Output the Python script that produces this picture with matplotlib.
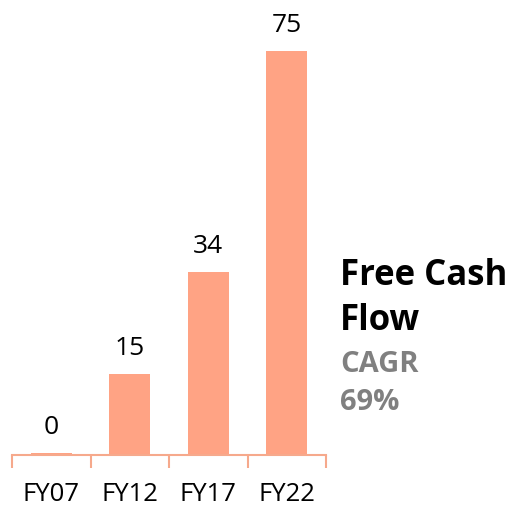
import matplotlib.pyplot as plt
import numpy as np

years = ["FY07", "FY12", "FY17", "FY22"]
cash_flow = [0.3, 15, 34, 75]
cagr = "69%"

bar_color = "#FFA384"
axis_color = "#F6A98C"

plt.rcParams["font.family"] = ["Open Sans", "DejaVu Sans"]

fig = plt.figure(figsize=(5.1, 5.06), dpi=100)
ax = fig.add_axes([12 / 510, 50 / 506, 314 / 510, 456 / 506])

x = np.arange(len(years))
ax.bar(x, cash_flow, width=0.52, color=bar_color)
for xi, v in zip(x, cash_flow):
	ax.text(xi, v + 2.6, f"{v:.0f}", ha="center", va="bottom", fontsize=19)

ax.set_xlim(-0.5, len(years) - 0.5)
ax.set_ylim(0, 84.6)
ax.set_yticks([])
for side in ["top", "left", "right"]:
	ax.spines[side].set_visible(False)
ax.spines["bottom"].set_color(axis_color)
ax.spines["bottom"].set_linewidth(1.5)

# boundary ticks between categories, labels centred on bars
ax.set_xticks(np.arange(-0.5, len(years)), labels=[])
ax.tick_params(axis="x", which="major", length=9, width=1.5, color=axis_color)
ax.set_xticks(x, labels=years, minor=True)
ax.tick_params(axis="x", which="minor", length=0, pad=18.5, labelsize=18.5)

fig.text(340 / 510, 1 - 285 / 506, "Free Cash", fontsize=25, fontweight="bold", va="baseline")
fig.text(340 / 510, 1 - 330 / 506, "Flow", fontsize=25, fontweight="bold", va="baseline")
fig.text(340 / 510, 1 - 372 / 506, "CAGR", fontsize=21, fontweight="bold", color="#808080", va="baseline")
fig.text(340 / 510, 1 - 410 / 506, cagr, fontsize=21, fontweight="bold", color="#808080", va="baseline")

fig.savefig("out.png", dpi=100)
